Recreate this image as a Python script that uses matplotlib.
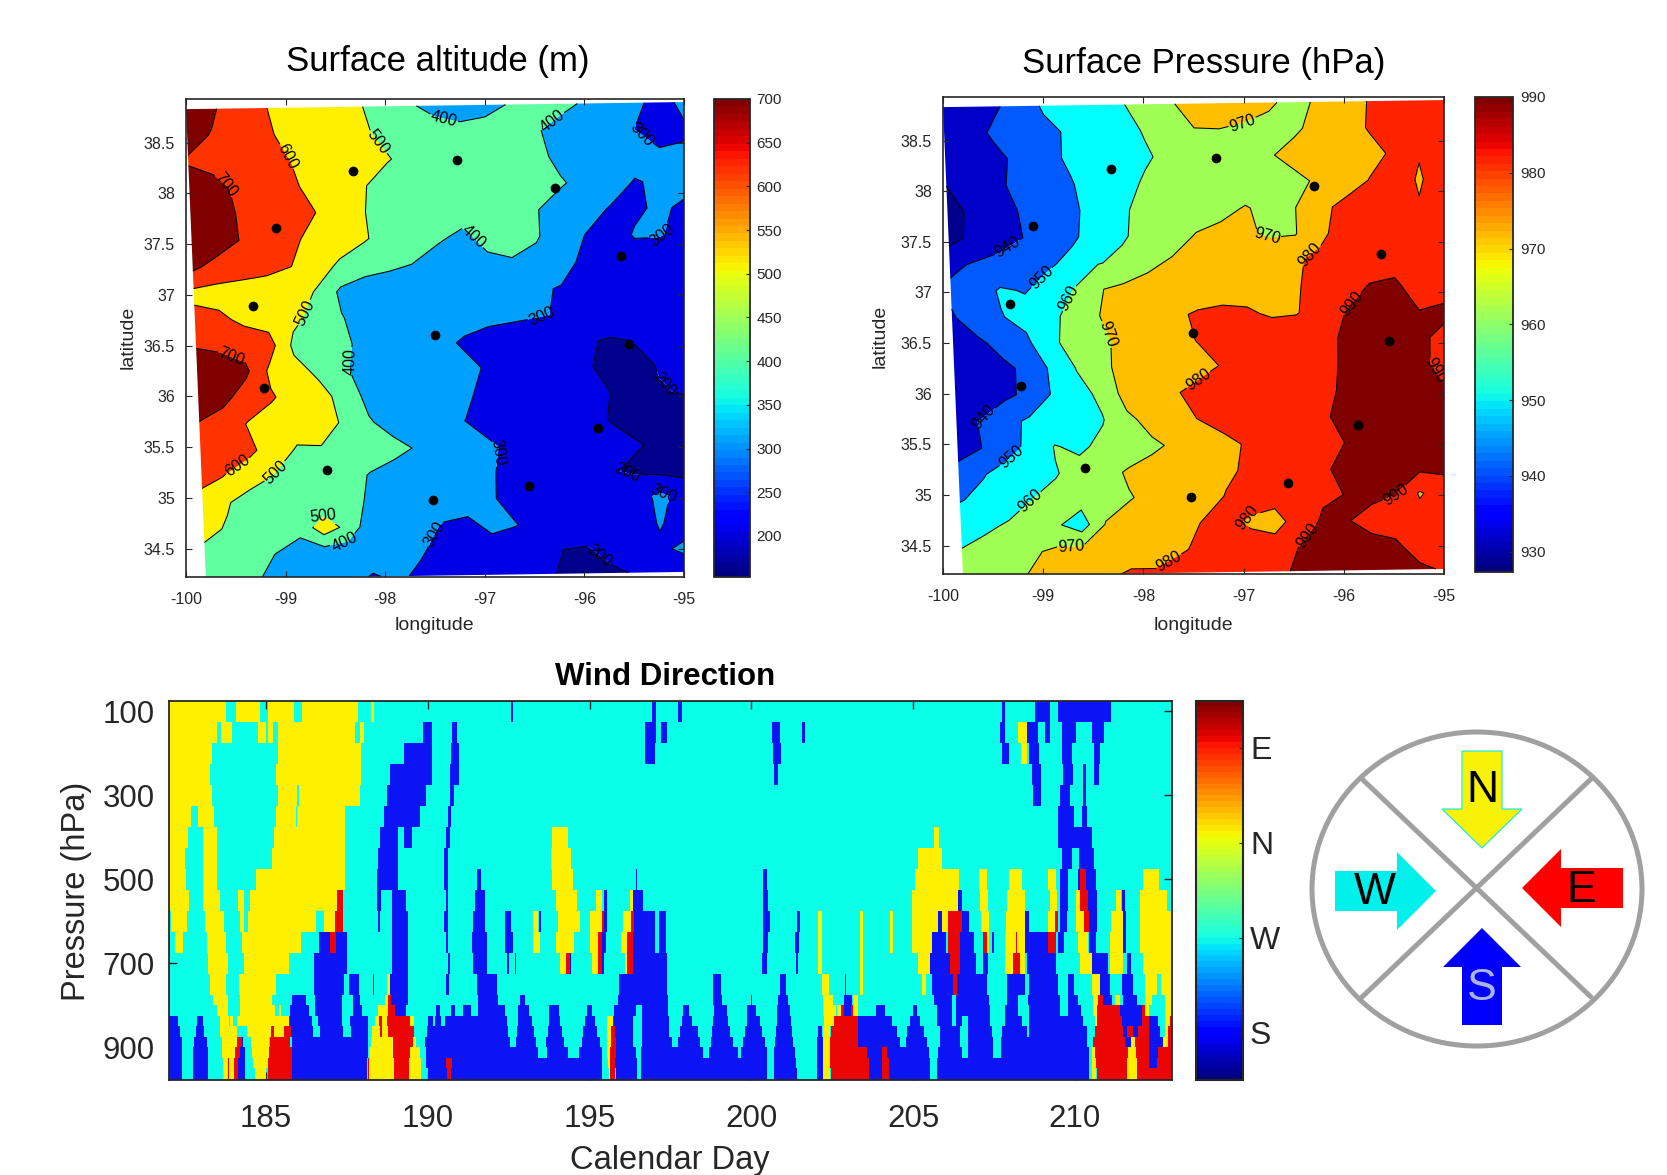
import numpy as np
import matplotlib
matplotlib.use('Agg')
import matplotlib.pyplot as plt
from matplotlib.cm import ScalarMappable
from matplotlib.colors import Normalize
from matplotlib.patches import Ellipse

plt.rcParams['font.family'] = ['Liberation Sans', 'DejaVu Sans']
plt.rcParams['axes.unicode_minus'] = False

W, H = 1667, 1175
TXT = '#262626'

# ---------- data ----------
row_lat = [38.83, 38.57, 38.31, 38.05, 37.79, 37.53, 37.27, 37.01, 36.75, 36.49,
           36.24, 35.98, 35.72, 35.46, 35.20, 34.95, 34.69, 34.43, 34.20]
col_lon = [-100, -99.75, -99.5, -99.25, -99, -98.75, -98.5, -98.25, -98, -97.75, -97.5,
           -97.25, -97, -96.75, -96.5, -96.25, -96, -95.75, -95.5, -95.25, -95]

altitude = [
    [760,715,650,605,585,555,530,505,450,410,370,350,375,405,440,425,390,350,320,270,320],
    [730,695,650,630,570,545,530,520,470,450,440,430,430,420,410,370,350,330,300,250,290],
    [690,670,650,630,605,560,540,525,510,460,450,445,440,440,430,375,350,340,330,320,310],
    [760,730,680,650,625,570,530,510,450,440,440,430,430,425,420,410,370,340,295,310,320],
    [790,750,690,650,630,605,540,505,450,440,435,430,430,430,405,360,330,295,290,310,290],
    [800,760,695,650,630,560,530,510,460,430,410,385,420,420,410,340,298,270,305,305,280],
    [720,660,640,625,602,530,490,440,420,398,370,375,385,395,370,330,280,270,270,260,250],
    [570,565,560,555,535,495,380,350,340,340,335,330,330,320,310,295,280,270,260,250,240],
    [640,620,580,560,520,470,405,360,340,340,340,330,320,310,305,295,280,270,260,250,240],
    [695,680,660,640,480,450,420,370,340,330,320,290,270,270,250,250,210,190,205,230,240],
    [770,760,720,580,530,480,410,370,340,340,330,320,290,270,250,240,205,185,180,205,230],
    [770,730,650,610,560,530,470,370,340,330,320,310,280,260,250,240,230,199,180,195,205],
    [690,650,595,560,545,530,490,410,360,340,320,299,270,250,240,235,225,195,180,170,165],
    [680,640,620,560,490,495,470,440,430,390,350,330,310,280,260,250,240,225,205,190,180],
    [630,595,550,495,470,450,430,395,360,340,330,320,305,280,260,250,230,205,190,180,170],
    [560,510,450,440,430,420,412,395,350,340,330,320,305,280,260,240,230,220,260,320,270],
    [530,490,440,430,430,560,470,330,340,320,295,290,310,302,280,250,230,220,240,310,250],
    [470,440,420,398,350,340,340,330,320,305,280,270,280,270,240,198,195,220,240,280,320],
    [450,430,415,370,340,330,320,295,310,290,270,260,250,240,220,190,185,190,205,240,230],
]

pressure = [
    [932,934,938,945,951,955,957,959,963,968,976,977,976,971,968,971,975,980.5,983,984,985],
    [931,935,942,945,948,951,954,957,960.5,963,969.5,969.8,968,968,969,972,977,980.5,983,984,985],
    [931,933,937,943,948,951,953,956,959,962,964,966,968,969.5,972,974,976,978,981,980.6,985],
    [930,933,938,943,945,949.5,953,957,961,963,964,965,966,967,968.5,971,976,980.2,985,979,985],
    [928,931,935,941,945,949,952,959,962,964,966,968,970.5,968,969.8,978,982,984,984,980.6,986],
    [927,932,936,940,945,949,953,959,963,966,970.5,972,971,969,969.5,979,982,984,985,986,986],
    [938,941,943,945,949,952,959.5,962,968,971,973,975,976,977,979.5,981,983,985,987.5,986,985],
    [942,945,951,949.5,953,960.5,969.5,972,973,974,975,976,977,978,979.5,982,986,990.5,991,987,985],
    [939,945,949.5,953,958,963,970,973,976,978.5,981,982,981,979,979.5,984,990.2,992,992,990.1,992],
    [932,938,943,948,958.5,963,968.5,972,975,978,980.3,982,984,985,986,988,991,993,993,991.5,988],
    [931,934,938,942,952,960.5,968.5,972,974,976,978,980.5,982,984,986,988,991,993,993,991.5,988],
    [933,935,938,942,951,957,962,974,978,979.5,982,984,985,986,987,988.5,991,993,994,994,990.5],
    [937,940.5,947,951.5,954,956,959.5,968,973,977,980.5,983,985,986,987,989.5,991,993,994,994,994],
    [936,940,947,952,960.5,958.5,962,965,968.5,971.5,974,978,981,984,986,988,990.2,992,994,995,995],
    [944,949.5,953,957,959.5,963,967,971,973,975,977,979,981,984,986,989,992,993,993,992,992],
    [949.5,952,956,960,962,964,966,969.5,972,974,977,980.3,983,985,987,989,990.2,992,990.2,979,985],
    [955,958.5,961,962,961,955,970.5,973,975,977,980.3,982,979,975,986,991,990.5,987,985,984,983],
    [961,963,965,969,972,973,974,976,978,979,981.5,982,983,986,990.2,992,993,993,992,985,981],
    [962,964,968,971,973,975,978.5,981,980.5,983,984,985,986,988.5,991,993,994,994,994,992,989],
]

site_lon = [-98.32, -97.28, -96.30, -99.10, -95.63, -99.33, -97.50, -95.55, -99.22, -95.86, -98.58, -96.56, -97.52]
site_lat = [38.22, 38.33, 38.05, 37.66, 37.38, 36.89, 36.60, 36.52, 36.08, 35.69, 35.27, 35.12, 34.98]

alt_levels = [100, 200, 300, 400, 500, 600, 700, 900]
alt_colors = ['#00008C', '#0000E6', '#00A0FF', '#60FFA0', '#FFF000', '#FF3300', '#800000']
alt_labels = [(-97.42,38.69),(-96.26,38.64),(-95.36,38.67),(-98.04,38.53),(-99.01,38.35),(-99.65,38.03),
              (-97.03,37.65),(-95.21,37.57),(-98.85,36.84),(-96.40,36.65),(-98.48,36.36),(-99.59,36.28),
              (-95.31,36.02),(-96.92,35.45),(-99.52,35.37),(-99.11,35.26),(-95.57,35.27),(-95.21,35.02),
              (-98.61,34.91),(-98.42,34.60),(-97.41,34.60),(-95.90,34.37)]

prs_levels = [900, 930, 940, 950, 960, 970, 980, 990, 1010]
prs_colors = ['#00008C', '#0000C8', '#005AFF', '#00FFFF', '#A0FF55', '#FFBE00', '#FF2300', '#800000']
prs_labels = [(-97.02,38.71),(-96.78,37.50),(-96.28,37.30),(-99.35,37.43),(-99.05,37.18),(-98.78,36.96),
              (-95.91,36.88),(-98.42,36.56),(-97.46,36.15),(-95.10,36.22),(-99.65,35.84),(-99.38,35.44),
              (-99.17,34.98),(-95.43,34.95),(-96.97,34.78),(-96.44,34.66),(-98.72,34.50),(-97.77,34.39)]

wind_colors = {'C': '#0AFFE8', 'Y': '#FFF000', 'B': '#0A14F5', 'R': '#EB0505'}

# pressure band edges (hPa); each wind_* list holds the runs of non-westerly wind in one band:
# (start day, end day, direction)
wind_edges = [75,125,175,225,275,325,375,425,475,525,575,625,675,725,775,800,825,850,875,900,925,950,978]
wind_100 = [(182,183.77,'Y'),(184.08,184.81,'Y'),(185.05,185.87,'Y'),(186.11,187.84,'Y'),(188.25,188.35,'Y'),
            (192.56,192.64,'B'),(196.92,197.04,'B'),(197.72,197.84,'B'),(207.76,207.84,'B'),(208.76,209.22,'B'),(209.49,211.11,'B')]
wind_150 = [(182,183.47,'Y'),(183.6,183.95,'Y'),(184.75,185.0,'Y'),(185.05,185.2,'Y'),(185.36,187.74,'Y'),(187.89,188.04,'Y'),
            (189.86,190.12,'B'),(190.75,190.9,'B'),(196.71,197.04,'B'),(197.2,197.38,'B'),(200.65,200.87,'B'),(201.56,201.66,'B'),
            (207.68,207.84,'B'),(208.24,208.51,'Y'),(208.51,208.85,'B'),(209.06,209.22,'B'),(209.61,210.04,'B'),(210.52,210.89,'B')]
wind_200 = [(182,183.34,'Y'),(185.36,187.92,'Y'),(189.26,190.12,'B'),(190.73,190.97,'B'),(196.71,197.02,'B'),(200.67,200.91,'B'),
            (207.74,207.96,'B'),(208.33,208.51,'Y'),(208.57,208.88,'B'),(209.61,209.91,'B'),(210.58,210.77,'B')]
wind_250 = [(182,183.28,'Y'),(185.3,187.92,'Y'),(188.84,190.12,'B'),(190.67,190.97,'B'),(200.71,200.83,'B'),(208.66,208.94,'B'),
            (209.63,209.95,'B'),(210.24,210.34,'B'),(210.58,210.73,'B')]
wind_300 = [(182,183.34,'Y'),(185.36,185.97,'Y'),(186.03,187.89,'Y'),(188.74,189.94,'B'),(190.69,190.82,'B'),(208.69,208.94,'B'),
            (209.55,209.85,'B'),(210.24,210.34,'B')]
wind_350 = [(182,182.67,'Y'),(182.91,183.4,'Y'),(185.3,185.91,'Y'),(185.97,187.43,'Y'),(188.65,189.75,'B'),(190.61,190.73,'B'),
            (209.49,209.98,'B'),(210.22,210.38,'B')]
wind_400 = [(182,182.58,'Y'),(183.04,183.47,'Y'),(185.24,187.43,'Y'),(188.53,189.08,'B'),(189.26,189.51,'B'),(190.55,190.69,'B'),
            (193.84,194.33,'Y'),(205.65,205.8,'Y'),(209.49,210.52,'B')]
wind_450 = [(182,182.49,'Y'),(183.04,183.47,'Y'),(185.17,187.43,'Y'),(188.45,189.08,'B'),(190.51,190.61,'B'),(193.8,194.43,'Y'),
            (205.16,205.89,'Y'),(209.59,209.91,'B'),(210.12,210.58,'B')]
wind_500 = [(182,182.51,'Y'),(183.04,183.47,'Y'),(184.69,187.43,'Y'),(188.43,189.08,'B'),(190.49,190.61,'B'),(191.52,191.65,'B'),
            (193.84,194.48,'Y'),(196.42,196.48,'B'),(200.37,200.49,'B'),(205.07,206.41,'Y'),(207.05,207.29,'Y'),(207.96,208.37,'Y'),
            (209.18,209.43,'Y'),(209.55,209.79,'B'),(210.1,210.16,'B'),(210.16,210.34,'R'),(210.34,210.65,'B'),(212.11,212.6,'Y')]
wind_550 = [(182,182.61,'Y'),(183.04,183.59,'Y'),(184.14,184.32,'Y'),(184.5,187.19,'Y'),(187.19,187.37,'R'),(188.43,188.55,'B'),
            (188.9,189.33,'B'),(190.55,190.61,'B'),(191.46,191.77,'B'),(193.97,194.6,'Y'),(195.19,195.37,'Y'),(195.43,195.53,'B'),
            (196.26,196.35,'Y'),(196.35,196.65,'B'),(200.37,200.52,'B'),(204.97,206.41,'Y'),(206.38,206.5,'B'),(207.07,207.32,'Y'),
            (207.9,208.45,'Y'),(209.22,209.46,'Y'),(209.55,209.79,'B'),(210.04,210.16,'Y'),(210.16,210.4,'R'),(210.4,210.68,'B'),
            (211.26,211.41,'Y'),(211.46,211.56,'B'),(212.02,212.84,'Y')]
wind_600 = [(182.06,182.55,'Y'),(183.1,183.71,'Y'),(184.2,184.32,'Y'),(184.44,186.54,'Y'),(186.79,187.13,'Y'),(187.13,187.37,'R'),
            (188.47,188.53,'B'),(188.9,189.39,'B'),(190.49,190.61,'B'),(191.4,191.77,'B'),(192.38,192.56,'B'),(193.26,193.42,'Y'),
            (193.45,193.51,'B'),(194.03,194.7,'Y'),(195.0,195.37,'Y'),(195.37,195.43,'R'),(195.43,195.53,'B'),(196.04,196.28,'Y'),
            (196.28,196.38,'R'),(196.38,197.02,'B'),(197.15,197.35,'B'),(200.37,200.58,'B'),(201.41,201.5,'B'),(202.07,202.17,'Y'),
            (203.37,203.44,'Y'),(204.28,204.37,'Y'),(204.95,205.77,'Y'),(205.77,205.89,'B'),(205.89,206.07,'Y'),(206.07,206.5,'R'),
            (206.5,206.74,'B'),(207.11,207.35,'Y'),(207.88,208.45,'Y'),(208.45,208.57,'B'),(209.18,209.37,'Y'),(209.37,209.49,'R'),
            (209.55,209.76,'B'),(210.04,210.28,'Y'),(210.28,210.44,'R'),(210.44,210.68,'B'),(211.13,211.5,'Y'),(211.5,211.58,'B'),(212.02,213,'Y')]
wind_650 = [(182.18,182.43,'Y'),(183.16,183.77,'Y'),(184.26,186.09,'Y'),(186.64,186.98,'B'),(186.98,187.15,'R'),(187.15,187.49,'B'),
            (188.9,189.39,'B'),(190.55,190.61,'B'),(191.38,191.83,'B'),(192.38,192.62,'B'),(193.26,193.48,'Y'),(193.97,194.52,'Y'),
            (195.0,195.25,'Y'),(195.25,195.37,'R'),(195.37,195.5,'B'),(195.98,196.16,'Y'),(196.16,196.35,'R'),(196.35,197.02,'B'),
            (197.14,197.35,'B'),(200.37,200.52,'B'),(201.34,201.46,'B'),(202.07,202.17,'Y'),(203.37,203.44,'Y'),(204.28,204.37,'Y'),
            (204.95,205.58,'Y'),(205.58,206.01,'B'),(206.07,206.46,'R'),(206.46,206.87,'B'),(207.15,207.27,'R'),(207.27,207.35,'Y'),
            (207.44,207.51,'B'),(207.84,208.18,'Y'),(208.18,208.21,'R'),(208.21,208.45,'Y'),(208.45,209.18,'B'),
            (209.18,209.4,'R'),(209.49,209.67,'B'),(210.1,210.4,'Y'),(210.44,210.65,'B'),(211.07,211.5,'Y'),(211.5,211.58,'B'),(212.02,213,'Y')]
wind_700 = [(183.22,183.83,'Y'),(184.32,185.72,'Y'),(186.48,187.49,'B'),(188.9,189.39,'B'),(190.61,190.67,'B'),(191.4,191.83,'B'),
            (192.44,192.52,'B'),(192.68,192.74,'B'),(194.09,194.27,'Y'),(194.27,194.38,'R'),(194.38,194.43,'B'),(195.06,195.25,'Y'),
            (195.25,195.37,'R'),(195.37,195.45,'B'),(196.1,196.16,'Y'),(196.16,196.35,'R'),(196.35,197.39,'B'),
            (200.32,200.49,'B'),(201.38,201.44,'B'),(202.07,202.19,'Y'),(203.37,203.44,'Y'),(205.16,205.52,'Y'),(205.52,206.13,'B'),
            (206.13,206.44,'R'),(206.44,206.93,'B'),(207.17,207.32,'B'),(207.84,208.09,'Y'),(208.09,208.29,'R'),(208.29,208.45,'Y'),
            (208.51,209.43,'B'),(210.16,210.52,'Y'),(210.52,211.01,'B'),(211.07,211.5,'Y'),(211.62,211.74,'B'),(212.11,213,'Y')]
wind_750 = [(183.28,183.77,'Y'),(184.17,185.3,'Y'),(186.48,187.4,'B'),(187.55,187.87,'B'),(188.29,188.35,'B'),(188.74,188.84,'Y'),
            (188.84,189.39,'B'),(190.55,190.65,'B'),(191.52,192.13,'B'),(195.92,197.39,'B'),(198.82,199.06,'B'),(200.89,201.07,'B'),
            (202.19,202.41,'Y'),(202.88,202.93,'B'),(203.37,203.44,'Y'),(205.28,205.4,'Y'),(205.58,206.22,'B'),(206.22,206.34,'R'),
            (206.34,207.29,'B'),(207.9,208.45,'B'),(208.57,209.49,'B'),(209.79,209.98,'B'),(210.52,210.77,'Y'),(210.77,211.07,'B'),
            (211.44,211.8,'B'),(212.17,212.54,'Y'),(212.66,213,'Y')]
wind_787 = [(183.37,183.83,'Y'),(184.19,185.17,'Y'),(185.79,186.22,'B'),(186.51,187.34,'B'),(187.69,187.9,'B'),(188.67,188.78,'Y'),
            (188.78,188.86,'R'),(188.86,189.4,'B'),(191.56,192.18,'B'),(192.85,193.0,'B'),(195.87,197.43,'B'),(198.82,199.08,'B'),
            (199.99,200.03,'B'),(200.83,201.14,'B'),(202.22,202.53,'Y'),(202.85,203.1,'B'),(203.13,203.28,'Y'),(205.63,206.19,'B'),
            (206.33,207.33,'B'),(207.89,208.25,'B'),(208.56,209.54,'B'),(209.8,210.11,'B'),(210.57,210.72,'Y'),(210.72,210.88,'R'),
            (210.88,211.14,'B'),(211.24,211.39,'Y'),(211.5,211.91,'B'),(212.17,212.37,'Y'),(212.78,213,'Y')]
wind_812 = [(183.47,183.83,'Y'),(184.19,185.27,'Y'),(185.41,185.46,'Y'),(185.74,186.34,'B'),(186.51,187.34,'B'),(187.69,187.95,'B'),
            (188.47,188.76,'Y'),(188.76,188.98,'R'),(188.98,189.34,'B'),(190.24,190.37,'B'),(190.73,190.84,'B'),(191.09,191.32,'B'),
            (191.56,192.38,'B'),(192.8,193.13,'B'),(193.76,194.05,'B'),(194.91,195.08,'B'),(195.76,196.42,'B'),(196.63,197.43,'B'),
            (197.9,198.08,'B'),(198.85,199.24,'B'),(199.85,200.14,'B'),(200.78,201.19,'B'),(202.22,202.62,'Y'),(202.66,202.77,'Y'),
            (202.77,202.87,'R'),(202.87,203.07,'B'),(203.07,203.15,'R'),(203.15,203.28,'Y'),(203.28,203.31,'B'),(203.85,204.13,'B'),
            (205.01,205.13,'B'),(205.73,206.19,'B'),(206.33,207.38,'B'),(207.84,208.25,'B'),(208.59,209.54,'B'),(209.8,210.18,'B'),
            (210.57,210.67,'Y'),(210.67,211.39,'R'),(211.39,212.06,'B'),(212.06,212.17,'R'),(212.17,212.3,'Y'),(212.78,213,'Y')]
wind_837 = [(182,182.29,'B'),(182.85,183.06,'B'),(183.58,183.85,'Y'),(183.88,183.99,'Y'),(184.09,185.71,'Y'),(185.71,185.74,'R'),
            (185.74,186.41,'B'),(186.61,187.34,'B'),(187.59,188.16,'B'),(188.36,188.49,'Y'),(188.49,188.57,'R'),(188.57,188.73,'Y'),
            (188.73,189.45,'R'),(189.45,189.58,'Y'),(190.01,190.17,'B'),(190.22,190.42,'B'),(190.53,192.44,'B'),(192.78,193.21,'B'),
            (193.73,194.09,'B'),(194.86,195.17,'B'),(195.53,195.73,'Y'),(195.73,195.76,'R'),(195.76,196.35,'B'),(196.61,197.45,'B'),
            (197.85,198.15,'B'),(198.82,199.29,'B'),(199.85,200.27,'B'),(200.78,201.22,'B'),(202.25,202.56,'Y'),(202.56,203.28,'R'),
            (203.28,204.34,'B'),(204.9,205.21,'B'),(205.73,206.19,'B'),(206.33,206.5,'B'),(206.68,207.38,'B'),(207.84,208.35,'B'),
            (208.58,210.26,'B'),(210.62,210.67,'Y'),(210.67,211.45,'R'),(211.45,212.06,'B'),(212.06,212.3,'R'),(212.3,212.58,'B'),
            (212.78,212.94,'Y'),(212.94,213,'R')]
wind_862 = [(182,182.34,'B'),(182.82,183.09,'B'),(183.58,184.09,'Y'),(184.4,185.15,'Y'),(185.15,185.25,'R'),(185.25,185.56,'Y'),
            (185.56,185.77,'R'),(185.77,186.46,'B'),(186.66,187.39,'B'),(187.62,188.16,'B'),(188.26,188.52,'Y'),(188.52,188.57,'R'),
            (188.57,188.76,'Y'),(188.76,189.58,'R'),(189.96,192.49,'B'),(192.75,193.29,'B'),(193.71,194.14,'B'),(194.81,195.22,'B'),
            (195.53,195.66,'Y'),(195.66,195.79,'R'),(195.79,196.35,'B'),(196.63,197.45,'B'),(197.79,198.34,'B'),(198.77,199.34,'B'),
            (199.8,200.34,'B'),(200.75,201.24,'B'),(202.07,202.19,'B'),(202.22,202.43,'Y'),(202.46,203.28,'R'),(203.28,204.49,'B'),
            (204.82,205.32,'B'),(205.83,206.45,'B'),(206.68,207.43,'B'),(207.74,208.51,'B'),(208.58,210.36,'B'),(210.62,211.5,'R'),
            (211.5,211.62,'B'),(211.62,211.79,'R'),(211.79,211.96,'B'),(211.96,212.3,'R'),(212.3,212.63,'B'),(212.78,212.89,'Y'),(212.89,213,'R')]
wind_887 = [(182,182.39,'B'),(182.78,183.16,'B'),(183.63,184.09,'Y'),(184.09,184.27,'R'),(184.27,184.3,'B'),(184.53,185.09,'Y'),
            (185.12,185.74,'R'),(185.79,188.14,'B'),(188.24,188.93,'Y'),(188.93,189.53,'R'),(189.53,189.62,'Y'),(189.91,192.54,'B'),
            (192.73,193.33,'B'),(193.64,194.22,'B'),(194.78,195.32,'B'),(195.53,195.66,'Y'),(195.66,195.81,'R'),(195.81,196.35,'B'),
            (196.61,197.54,'B'),(197.72,198.41,'B'),(198.75,199.44,'B'),(199.75,200.42,'B'),(200.73,201.29,'B'),(202.02,202.22,'B'),
            (202.22,202.43,'Y'),(202.43,203.31,'R'),(203.31,204.6,'B'),(204.78,205.42,'B'),(205.83,206.45,'B'),(206.71,207.48,'B'),
            (207.71,210.36,'B'),(210.57,211.55,'R'),(211.55,211.73,'B'),(211.73,211.86,'Y'),(211.86,212.3,'R'),(212.3,212.73,'B'),
            (212.73,212.89,'Y'),(212.89,213,'R')]
wind_912 = [(182,182.39,'B'),(182.75,183.19,'B'),(183.65,184.04,'Y'),(184.04,184.19,'R'),(184.19,184.35,'B'),(184.57,185.09,'Y'),
            (185.09,185.79,'R'),(185.79,188.14,'B'),(188.18,188.93,'Y'),(188.93,189.45,'R'),(189.45,189.76,'Y'),(189.93,193.42,'B'),
            (193.67,194.34,'B'),(194.67,195.37,'B'),(195.53,195.63,'Y'),(195.63,195.81,'R'),(195.81,196.42,'B'),(196.59,198.51,'B'),
            (198.69,199.6,'B'),(199.68,200.47,'B'),(200.71,201.35,'B'),(202.02,202.22,'B'),(202.22,202.43,'Y'),(202.43,203.57,'R'),
            (203.57,204.03,'B'),(204.03,204.18,'R'),(204.18,205.5,'B'),(205.78,206.5,'B'),(206.71,207.48,'B'),(207.71,210.45,'B'),
            (210.52,210.62,'Y'),(210.62,211.65,'R'),(211.65,211.89,'Y'),(211.89,212.3,'R'),(212.3,212.58,'B'),(212.58,213,'R')]
wind_937 = [(182,182.39,'B'),(182.75,183.22,'B'),(183.68,183.81,'Y'),(183.81,183.86,'R'),(183.86,184.01,'Y'),(184.01,184.14,'R'),
            (184.14,184.35,'B'),(184.6,185.07,'Y'),(185.07,185.79,'R'),(185.79,188.11,'B'),(188.14,188.18,'R'),(188.18,188.96,'Y'),
            (188.96,189.42,'R'),(189.42,189.79,'Y'),(189.93,190.56,'B'),(190.56,190.75,'R'),(190.75,195.37,'B'),(195.56,195.63,'Y'),
            (195.63,195.79,'R'),(195.79,196.46,'B'),(196.59,200.47,'B'),(200.71,201.37,'B'),(202.02,202.22,'B'),(202.22,202.43,'Y'),
            (202.43,203.65,'R'),(203.65,204.03,'B'),(204.03,204.24,'R'),(204.24,205.52,'B'),(205.75,210.45,'B'),(210.52,210.64,'Y'),
            (210.64,211.6,'R'),(211.6,211.91,'Y'),(211.91,212.3,'R'),(212.3,212.55,'B'),(212.55,213,'R')]
wind_962 = [(182,182.39,'B'),(182.75,183.22,'B'),(183.68,183.83,'Y'),(183.83,183.86,'R'),(183.86,184.01,'Y'),(184.01,184.14,'R'),
            (184.14,184.35,'B'),(184.66,185.0,'Y'),(185.07,185.81,'R'),(185.81,188.11,'B'),(188.14,188.18,'R'),(188.18,188.96,'Y'),
            (188.96,189.42,'R'),(189.42,189.79,'Y'),(190.01,190.58,'B'),(190.58,190.73,'R'),(190.73,195.39,'B'),(195.6,195.64,'Y'),
            (195.64,195.79,'R'),(195.81,196.47,'B'),(196.59,200.48,'B'),(200.71,201.4,'B'),(202.02,202.22,'B'),(202.22,202.43,'Y'),
            (202.46,203.65,'R'),(203.65,204.03,'B'),(204.03,204.24,'R'),(204.24,205.52,'B'),(205.75,210.45,'B'),(210.52,210.64,'Y'),
            (210.67,211.6,'R'),(211.6,211.91,'Y'),(211.91,213,'R')]
wind_runs = [wind_100, wind_150, wind_200, wind_250, wind_300, wind_350, wind_400, wind_450, wind_500,
             wind_550, wind_600, wind_650, wind_700, wind_750, wind_787, wind_812, wind_837, wind_862,
             wind_887, wind_912, wind_937, wind_962]

# ---------- helpers ----------
fig = plt.figure(figsize=(W / 100, H / 100), dpi=100, facecolor='white')

def axes_px(x0, y0, x1, y1):
    return fig.add_axes([x0 / W, 1 - y1 / H, (x1 - x0) / W, (y1 - y0) / H])

def text_px(x, y, s, **kw):
    kw.setdefault('ha', 'center')
    kw.setdefault('va', 'center')
    kw.setdefault('color', TXT)
    fig.text(x / W, 1 - y / H, s, **kw)

def colorbar(box, vmin, vmax, ticks, labels, size, lw=1.3):
    cax = axes_px(*box)
    sm = ScalarMappable(norm=Normalize(vmin, vmax), cmap=plt.get_cmap('jet', 64))
    cb = fig.colorbar(sm, cax=cax)
    cb.set_ticks(ticks)
    cb.set_ticklabels(labels)
    cb.ax.tick_params(direction='in', length=3, width=0.8, labelsize=size, colors=TXT, pad=5)
    cb.outline.set_linewidth(lw)
    cb.outline.set_edgecolor(TXT)
    return cb

def map_panel(box, Z, levels, colors, line_levels, labels):
    ax = axes_px(*box)
    lon = np.array(col_lon, float)
    lat = np.array(row_lat, float)
    LON, LAT = np.meshgrid(lon, lat)
    frac_y = (lat.max() - LAT) / (lat.max() - lat.min())
    frac_x = (LON - lon.min()) / (lon.max() - lon.min())
    X = LON + 0.2 * frac_y * (1 - frac_x)      # slightly sheared source grid
    Y = LAT + 0.07 * frac_x
    Z = np.array(Z, float)
    ax.contourf(X, Y, Z, levels=levels, colors=colors, antialiased=True)
    cs = ax.contour(X, Y, Z, levels=line_levels, colors='k', linewidths=0.75)
    ax.clabel(cs, manual=labels, inline=True, fontsize=11.5, fmt='%d', inline_spacing=1)
    ax.plot(site_lon, site_lat, 'o', color='k', ms=7, mew=0, zorder=6)
    ax.set_xlim(-100, -95)
    ax.set_ylim(34.22, 38.93)
    ax.set_xticks([-100, -99, -98, -97, -96, -95])
    ax.set_xticklabels(['-100', '-99', '-98', '-97', '-96', '-95'])
    ax.set_yticks([34.5, 35, 35.5, 36, 36.5, 37, 37.5, 38, 38.5])
    ax.set_yticklabels(['34.5', '35', '35.5', '36', '36.5', '37', '37.5', '38', '38.5'])
    ax.tick_params(direction='in', top=True, right=True, length=4, width=0.8,
                   labelsize=11.5, colors=TXT)
    ax.tick_params(axis='x', pad=11)
    ax.tick_params(axis='y', pad=8)
    for s in ax.spines.values():
        s.set_linewidth(1.2)
        s.set_edgecolor(TXT)
    return ax

# ---------- top maps ----------
map_panel((186, 99, 684, 577), altitude, alt_levels, alt_colors, [200, 300, 400, 500, 600, 700], alt_labels)
colorbar((714, 99, 749.5, 577), 153, 700, list(range(200, 701, 50)), [str(v) for v in range(200, 701, 50)], 11)
text_px(438, 61, 'Surface altitude (m)', fontsize=25, color='k')
text_px(434, 626, 'longitude', fontsize=14)
text_px(128, 337, 'latitude', fontsize=14, rotation=90)

map_panel((943, 97, 1444, 574), pressure, prs_levels, prs_colors, [930, 940, 950, 960, 970, 980, 990], prs_labels)
colorbar((1474.5, 97, 1513, 572), 927.3, 990, list(range(930, 991, 10)), [str(v) for v in range(930, 991, 10)], 11)
text_px(1204, 63, 'Surface Pressure (hPa)', fontsize=25, color='k')
text_px(1193, 626, 'longitude', fontsize=14)
text_px(880, 336, 'latitude', fontsize=14, rotation=90)

# ---------- wind panel ----------
ax = axes_px(169, 700.5, 1172, 1080)
for top, bottom, runs in zip(wind_edges[:-1], wind_edges[1:], wind_runs):
    y = (top, bottom - top)
    ax.broken_barh([(182, 31)], y, facecolors=wind_colors['C'], linewidth=0, antialiased=False, zorder=1)
    for code in 'YBR':
        segs = [(a, b - a) for a, b, c in runs if c == code]
        if segs:
            ax.broken_barh(segs, y, facecolors=wind_colors[code], linewidth=0, antialiased=False, zorder=2)
ax.set_xlim(182, 213)
ax.set_ylim(978, 75)
ax.set_xticks([185, 190, 195, 200, 205, 210])
ax.set_yticks([100, 300, 500, 700, 900])
ax.tick_params(direction='in', top=True, right=True, length=6, width=1, labelsize=22.5, colors=TXT)
ax.tick_params(axis='x', pad=17)
ax.tick_params(axis='y', pad=10)
for s in ax.spines.values():
    s.set_linewidth(1.3)
    s.set_edgecolor(TXT)
text_px(665.5, 677, 'Wind Direction', fontsize=22.5, fontweight='bold', color='k')
text_px(670, 1160, 'Calendar Day', fontsize=23.5)
text_px(76, 891, 'Pressure (hPa)', fontsize=23.5, rotation=90)
colorbar((1196, 700.5, 1243, 1080), 0.5, 4.5, [1, 2, 3, 4], ['S', 'W', 'N', 'E'], 23, lw=1.5)

# ---------- compass key ----------
cp = fig.add_axes([0, 0, 1, 1], facecolor='none')
cp.set_xlim(0, W)
cp.set_ylim(H, 0)
cp.axis('off')
GREY = '#A0A0A0'
cp.add_patch(Ellipse((1477, 889), 330, 314, fill=False, edgecolor=GREY, linewidth=3.6))
cp.plot([1361, 1592], [778, 998], color=GREY, lw=3.6, solid_capstyle='butt')
cp.plot([1592, 1361], [778, 998], color=GREY, lw=3.6, solid_capstyle='butt')
arrows = [
    ('#F8F206', '#10E8E8', [(1462,751),(1502,751),(1502,809),(1522,809),(1482,848),(1442,809),(1462,809)]),
    ('#00F0EC', 'none',    [(1335,871),(1397,871),(1397,852),(1436,891),(1397,930),(1397,911),(1335,911)]),
    ('#FF0000', 'none',    [(1623,868),(1561,868),(1561,849),(1522,888),(1561,927),(1561,908),(1623,908)]),
    ('#0000FF', 'none',    [(1462,1025),(1502,1025),(1502,967),(1521,967),(1482,928),(1443,967),(1462,967)]),
]
for face, edge, pts in arrows:
    cp.fill(*zip(*pts), facecolor=face, edgecolor=edge, linewidth=0.8)
for x, y, s, c in [(1482, 791, 'N', 'k'), (1375, 893, 'W', 'k'), (1581, 891, 'E', 'k'), (1482, 989, 'S', '#AAB4DC')]:
    cp.text(x, y, s, color=c, fontsize=32, ha='center', va='center')

fig.savefig('out.png', dpi=100, facecolor='white')
